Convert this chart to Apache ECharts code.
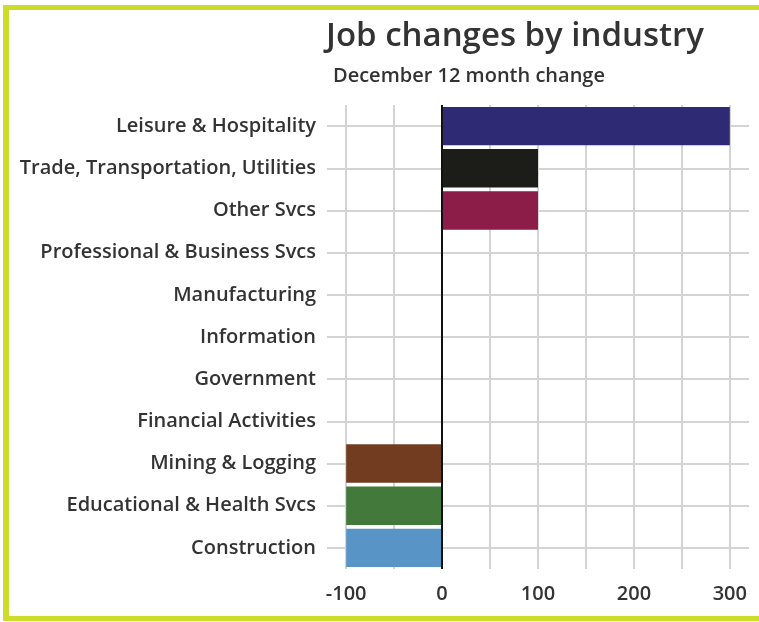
<!DOCTYPE html>
<html>
<head>
<meta charset="utf-8">
<script src="https://cdn.jsdelivr.net/npm/echarts@6/dist/echarts.min.js"></script>
<style>
html,body{margin:0;padding:0;background:#fff;}
#c{width:759px;height:622px;}
</style>
</head>
<body>
<div id="c"></div>
<script>
const categories = [
  'Leisure & Hospitality',
  'Trade, Transportation, Utilities',
  'Other Svcs',
  'Professional & Business Svcs',
  'Manufacturing',
  'Information',
  'Government',
  'Financial Activities',
  'Mining & Logging',
  'Educational & Health Svcs',
  'Construction'
];
const values = [300, 100, 100, 0, 0, 0, 0, 0, -100, -100, -100];
const barColors = ['#2e2a73', '#1c1c18', '#8c1c48', '#888', '#888', '#888', '#888', '#888', '#723c20', '#437a3b', '#5895c6'];
const tickLabels = [-100, 0, 100, 200, 300];
const gridValues = [-100, -50, 50, 100, 150, 200, 250, 300];

const fontFam = '"Open Sans", Lato, sans-serif';
const chart = echarts.init(document.getElementById('c'), null, {renderer: 'canvas'});
const gridLineStyle = {color: '#d4d4d4', width: 2, type: 'solid'};

chart.setOption({
  backgroundColor: '#ffffff',
  animation: false,
  title: [
    {text: 'Job changes by industry', left: 321, top: 15,
     textStyle: {fontFamily: fontFam, fontSize: 33, fontWeight: 600, color: '#333333'}},
    {text: 'December 12 month change', left: 328, top: 61,
     textStyle: {fontFamily: fontFam, fontSize: 20, fontWeight: 600, color: '#333333'}}
  ],
  graphic: [
    {type: 'rect', shape: {x: 3, y: 5, width: 6, height: 616}, style: {fill: '#cddc29'}},
    {type: 'rect', shape: {x: 3, y: 5, width: 756, height: 5}, style: {fill: '#cddc29'}},
    {type: 'rect', shape: {x: 3, y: 616, width: 756, height: 5}, style: {fill: '#cddc29'}}
  ],
  grid: {left: 327, right: 10, top: 105, bottom: 53, containLabel: false},
  xAxis: {
    type: 'value', min: -120, max: 320,
    axisLine: {show: false}, axisTick: {show: false}, splitLine: {show: false},
    axisLabel: {customValues: tickLabels, fontFamily: fontFam, fontSize: 20, fontWeight: 600, color: '#333333', margin: 15}
  },
  yAxis: {
    type: 'category', inverse: true, data: categories,
    axisLine: {show: false}, axisTick: {show: false}, splitLine: {show: false},
    axisLabel: {fontFamily: fontFam, fontSize: 20, fontWeight: 600, color: '#333333', margin: 11, padding: [3, 0, 0, 0]}
  },
  series: [
    {
      type: 'line', data: [], z: 1, silent: true,
      markLine: {
        z: 1, silent: true, symbol: 'none', label: {show: false}, lineStyle: gridLineStyle, animation: false,
        data: gridValues.map(v => ({xAxis: v})).concat(categories.map(c => ({yAxis: c})))
      }
    },
    {
      type: 'bar', z: 3, barCategoryGap: '9%',
      data: values.map((v, i) => ({value: v, itemStyle: {color: barColors[i]}}))
    },
    {
      type: 'line', data: [], z: 5, silent: true,
      markLine: {
        z: 6, silent: true, symbol: 'none', label: {show: false}, animation: false,
        lineStyle: {color: '#111111', width: 2, type: 'solid'},
        data: [{xAxis: 0}]
      }
    }
  ]
});
</script>
</body>
</html>
